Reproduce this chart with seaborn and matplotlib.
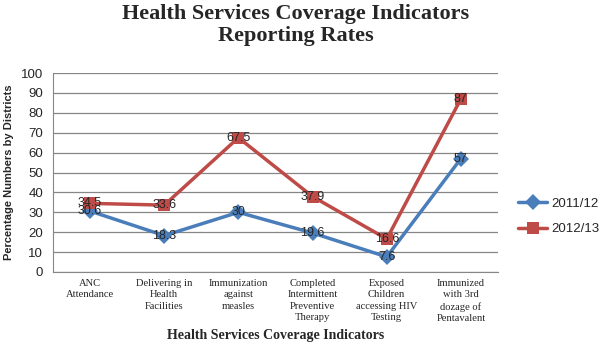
import pandas as pd
import matplotlib.pyplot as plt
import seaborn as sns

categories = ["ANC\nAttendance", "Delivering in\nHealth\nFacilities",
              "Immunization\nagainst\nmeasles", "Completed\nIntermittent\nPreventive\nTherapy",
              "Exposed\nChildren\naccessing HIV\nTesting", "Immunized\nwith 3rd\ndozage of\nPentavalent"]
years = ["2011/12", "2012/13"]
values_2011 = [30.6, 18.3, 30, 19.6, 7.6, 57]
values_2012 = [34.5, 33.6, 67.5, 37.9, 16.6, 87]
labels_2011 = ["30.6", "18.3", "30", "19.6", "7.6", "57"]
labels_2012 = ["34.5", "33.6", "67.5", "37.9", "16.6", "87"]

df = pd.DataFrame({
    "pos": list(range(len(categories))) * 2,
    "value": values_2011 + values_2012,
    "year": [years[0]] * len(categories) + [years[1]] * len(categories),
})

sns.set_style("white")
serif = ["Liberation Serif", "DejaVu Serif"]
sans = ["Liberation Sans", "DejaVu Sans"]
plt.rcParams['font.family'] = sans

fig = plt.figure(figsize=(6, 3.61), dpi=100)
ax = fig.add_axes([53 / 600, 1 - 272 / 361, 445 / 600, 199 / 361])

palette = {"2011/12": "#4A7EBB", "2012/13": "#BE4B48"}
sns.lineplot(data=df, x="pos", y="value", hue="year", style="year",
             markers={"2011/12": "D", "2012/13": "s"}, dashes=False,
             palette=palette, linewidth=2.5, markersize=8, markeredgewidth=0,
             ax=ax, zorder=3)

# data labels sit right on the markers, like the original
for i in range(len(categories)):
    ax.text(i, values_2011[i], labels_2011[i], ha="center", va="center",
            fontsize=9, zorder=5)
    ax.text(i, values_2012[i], labels_2012[i], ha="center", va="center",
            fontsize=9, zorder=5)

ax.set_xlim(-0.5, len(categories) - 0.5)
ax.set_ylim(0, 100)
ax.set_yticks(range(0, 101, 10))
ax.set_xticks(range(len(categories)))
ax.set_xticklabels(categories, family=serif, fontsize=7.6, linespacing=1.35)
ax.set_xticks([i - 0.5 for i in range(len(categories) + 1)], minor=True)
ax.tick_params(axis="x", which="major", length=0, pad=5)
ax.tick_params(axis="x", which="minor", length=4, color="#868686", direction="out")
ax.tick_params(axis="y", length=4, color="#868686", direction="out", labelsize=9.5, pad=3)
ax.yaxis.grid(True, color="#868686", linewidth=0.9)
ax.set_axisbelow(True)
for s in ["top", "right"]:
    ax.spines[s].set_visible(False)
for s in ["left", "bottom"]:
    ax.spines[s].set_color("#868686")

ax.set_xlabel("Health Services Coverage Indicators", family=serif,
              fontsize=10, fontweight="bold", labelpad=4)
ax.set_ylabel("Percentage Numbers by Districts", fontsize=8,
              fontweight="bold", labelpad=5)
fig.text(0.493, 0.99, "Health Services Coverage Indicators\nReporting Rates",
         ha="center", va="top", family=serif, fontsize=16,
         fontweight="bold", linespacing=1.15)

ax.legend(loc="center left", bbox_to_anchor=(518 / 600, 1 - 216.5 / 361),
          bbox_transform=fig.transFigure, frameon=False, borderpad=0,
          borderaxespad=0, fontsize=9.5, handlelength=2.2, handletextpad=0.3,
          labelspacing=1.0)

fig.savefig("out.png", dpi=100)
